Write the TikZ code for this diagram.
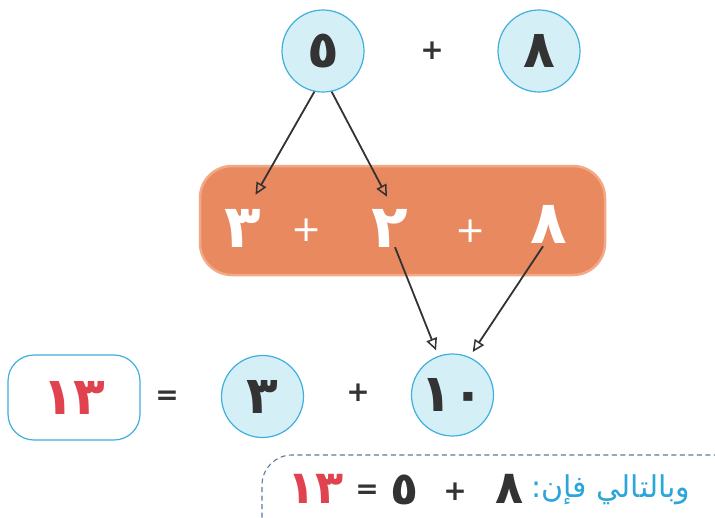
\documentclass[tikz,border=0pt]{standalone}
\usepackage{fontspec}
\usetikzlibrary{arrows.meta,calc}
\TeXXeTstate=1
\newfontfamily\arabicfont[Script=Arabic]{DejaVu Sans}
\newfontfamily\symfont{DejaVu Sans}
\definecolor{cfill}{HTML}{D5EFF6}
\definecolor{cline}{HTML}{3FB0DD}
\definecolor{obox}{HTML}{E8895F}
\definecolor{oline}{HTML}{F3A886}
\definecolor{rtext}{HTML}{E0434F}
\definecolor{btext}{HTML}{2BA5DA}
\definecolor{dline}{HTML}{5B7C9E}
\definecolor{ink}{HTML}{333333}
\tikzset{
  numcirc/.style={circle, draw=cline, fill=cfill, line width=1.2pt, minimum size=82pt, inner sep=0pt,
    font=\arabicfont\bfseries\fontsize{52}{52}\selectfont, text=ink},
  op/.style={inner sep=0pt, font=\symfont\bfseries\fontsize{28}{28}\selectfont, text=ink},
  wop/.style={inner sep=0pt, font=\symfont\fontsize{36}{36}\selectfont, text=white},
  wdig/.style={inner sep=0pt, font=\arabicfont\bfseries\fontsize{60}{60}\selectfont, text=white},
  bdig/.style={inner sep=0pt, font=\arabicfont\bfseries\fontsize{46}{46}\selectfont, text=ink},
  arr/.style={draw=ink, line width=1.8pt, -{Triangle[open, length=12pt, width=11pt, line width=1.5pt]}},
}
\begin{document}
\begin{tikzpicture}[x=1pt, y=-1pt]
\fill[white] (0,0) rectangle (715,517);
\useasboundingbox (0,0) rectangle (715,517);
% top row
\node[numcirc] (c5) at (323,51) {٥};
\node[op] (p1) at (432,51) {+};
\node[numcirc] (c8) at (539,51) {٨};
% orange bar
\node[rounded corners=32pt, fill=obox, draw=oline, line width=2.5pt, minimum width=405pt, minimum height=109pt, inner sep=0pt] (bar) at (402.5,220.5) {};
\node[wdig] (d3) at (243,228) {٣};
\node[wop] (p2) at (307,230) {+};
\node[wdig] (d2) at (390,228) {٢};
\node[wop] (p3) at (471,231) {+};
\node[wdig] (d8) at (549,224) {٨};
% bottom row
\node[draw=cline, line width=1.2pt, fill=white, rounded corners=26pt, minimum width=132pt, minimum height=85pt, inner sep=0pt,
  font=\arabicfont\bfseries\fontsize{52}{52}\selectfont, text=rtext] (r13) at (74,397.5) {١٣};
\node[op] (eq1) at (167,398) {=};
\node[numcirc] (c3) at (262.5,396.5) {٣};
\node[op] (p4) at (358,393) {+};
\node[numcirc] (c10) at (452.5,395) {١٠};
% arrows
\draw[arr] (c5.258) -- ([shift={(-6,-14)}]d3.north east);
\draw[arr] (c5.282) -- ([shift={(-3,-12)}]d2.north);
\draw[arr, shorten >=6pt] ([shift={(5,0)}]d2.south) -- (c10.110);
\draw[arr, shorten >=6pt] ([shift={(-6,3)}]d8.south) -- (c10.66);
% dashed conclusion box
\draw[dline, line width=1.1pt, dash pattern=on 5pt off 3.5pt, rounded corners=30pt] (262,560) -- (262,455) -- (745,455) -- (745,560);
\node[inner sep=0pt, font=\arabicfont\fontsize{30}{30}\selectfont, text=btext] (txt) at (611,490) {\beginR وبالتالي فإن:\endR};
\node[bdig] (e8) at (510,489) {٨};
\node[op] (p5) at (455,492) {+};
\node[bdig] (e5) at (405,490) {٥};
\node[op] (eq2) at (367,492) {=};
\node[inner sep=0pt, font=\arabicfont\bfseries\fontsize{46}{46}\selectfont, text=rtext] (e13) at (316,489) {١٣};
\end{tikzpicture}
\end{document}
